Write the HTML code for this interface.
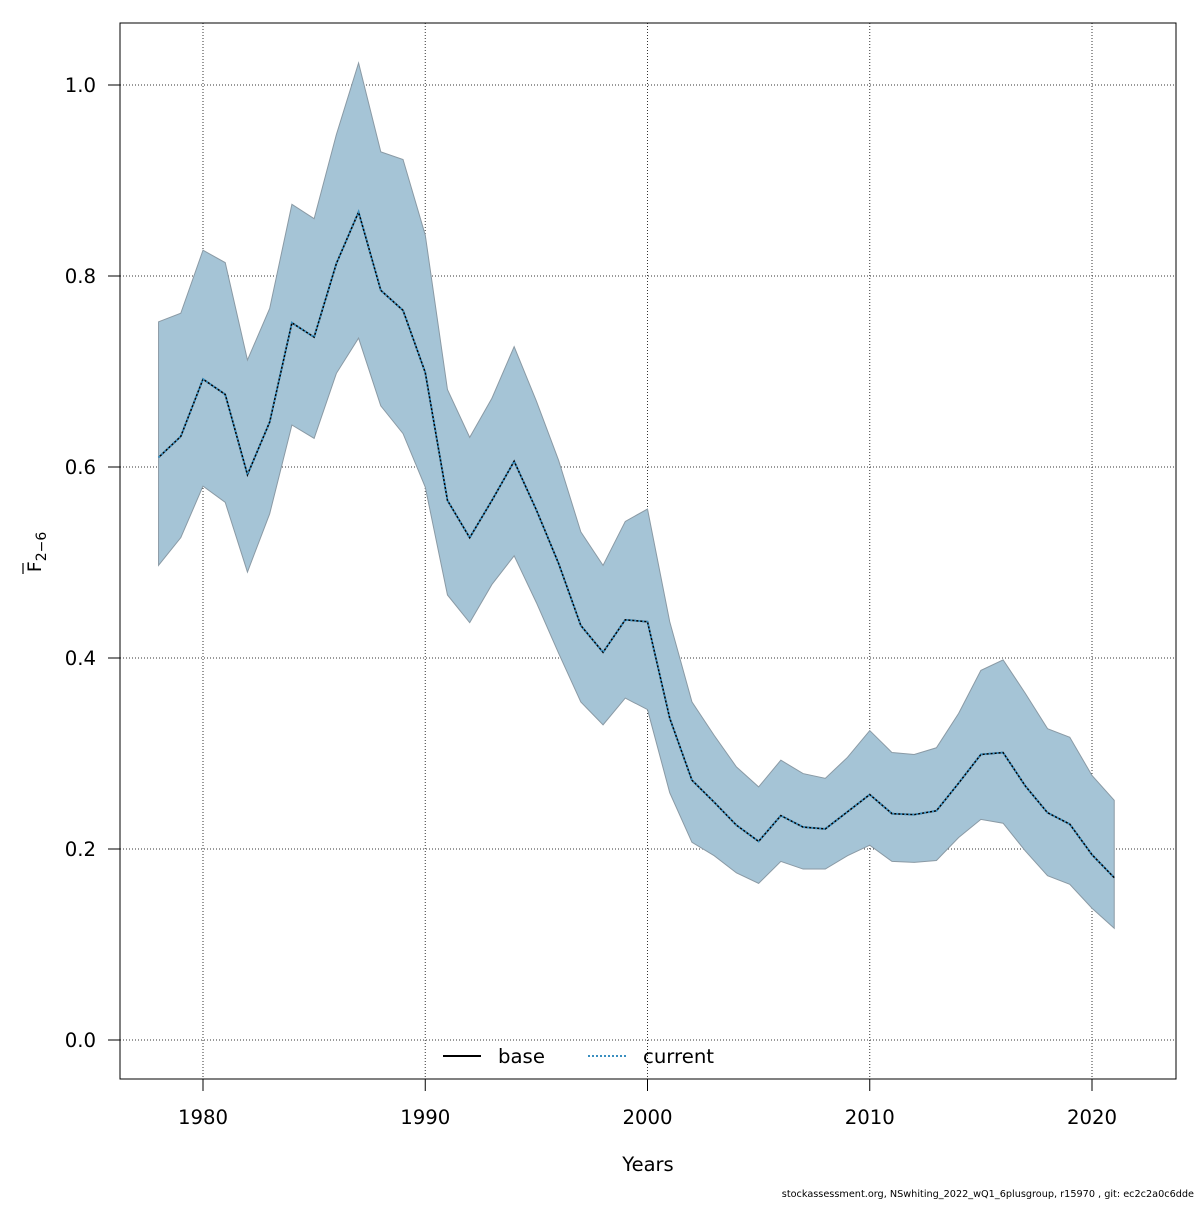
<!DOCTYPE html>
<html><head><meta charset="utf-8"><style>
html,body{margin:0;padding:0;background:#fff;}
svg text{font-family:"DejaVu Sans","Liberation Sans",sans-serif;}
</style></head><body>
<svg id="chart" width="1200" height="1200" xmlns="http://www.w3.org/2000/svg">
<rect width="1200" height="1200" fill="#fff"/>
<g id="grid"></g>
<g id="band"></g>
<g id="lines"></g>
<rect x="120" y="23" width="1056" height="1056" fill="none" stroke="#000" stroke-width="1"/>
<g id="axes"></g>
<text x="648" y="1171" font-size="19.5" text-anchor="middle">Years</text>
<text transform="translate(41,552) rotate(-90)" font-size="19" text-anchor="middle">F<tspan font-size="14" dy="5">2−6</tspan></text>
<line x1="23" y1="563" x2="23" y2="574" stroke="#000" stroke-width="1.2"/>
<g>
<line x1="443" y1="1056" x2="481" y2="1056" stroke="#000" stroke-width="2"/>
<text x="498" y="1063" font-size="19.7">base</text>
<line x1="588" y1="1056" x2="626" y2="1056" stroke="#3a8fc0" stroke-width="2" stroke-dasharray="2,2"/>
<text x="643" y="1063" font-size="19.7">current</text>
</g>
<text x="1194" y="1197" font-size="9.7" text-anchor="end">stockassessment.org, NSwhiting_2022_wQ1_6plusgroup, r15970 , git: ec2c2a0c6dde</text>
</svg>
<script>
const years = [1978,1979,1980,1981,1982,1983,1984,1985,1986,1987,1988,1989,1990,1991,1992,1993,1994,1995,1996,1997,1998,1999,2000,2001,2002,2003,2004,2005,2006,2007,2008,2009,2010,2011,2012,2013,2014,2015,2016,2017,2018,2019,2020,2021];
const fbar = [0.610,0.632,0.692,0.676,0.592,0.647,0.751,0.736,0.813,0.867,0.785,0.764,0.699,0.565,0.526,0.565,0.606,0.555,0.499,0.434,0.406,0.440,0.438,0.337,0.272,0.249,0.225,0.208,0.235,0.223,0.221,0.239,0.257,0.237,0.236,0.240,0.269,0.299,0.301,0.266,0.238,0.226,0.194,0.170];
const upper = [0.752,0.761,0.827,0.814,0.712,0.766,0.875,0.860,0.948,1.023,0.930,0.922,0.843,0.681,0.631,0.672,0.726,0.669,0.607,0.532,0.497,0.543,0.556,0.438,0.354,0.319,0.286,0.265,0.293,0.279,0.274,0.296,0.324,0.301,0.299,0.306,0.342,0.387,0.398,0.363,0.326,0.317,0.277,0.251];
const lower = [0.497,0.526,0.580,0.563,0.490,0.551,0.644,0.630,0.698,0.735,0.664,0.635,0.579,0.466,0.437,0.477,0.507,0.458,0.405,0.354,0.330,0.358,0.346,0.259,0.207,0.193,0.175,0.164,0.187,0.179,0.179,0.193,0.204,0.187,0.186,0.188,0.212,0.231,0.227,0.198,0.172,0.163,0.138,0.117];
const xTicks = [1980,1990,2000,2010,2020];
const yTicks = [0.0,0.2,0.4,0.6,0.8,1.0];
const yTickLabels = ["0.0","0.2","0.4","0.6","0.8","1.0"];

const NS="http://www.w3.org/2000/svg";
const X = y => 203 + (y-1980)*(1092-203)/40;
const Y = v => 1040 - v*955;
function mk(tag, attrs, parent){const e=document.createElementNS(NS,tag);for(const k in attrs)e.setAttribute(k,attrs[k]);parent.appendChild(e);return e;}
const grid=document.getElementById('grid'), axes=document.getElementById('axes');
xTicks.forEach(t=>{
  const g=mk('line',{x1:X(t),x2:X(t),y1:23,y2:1079,stroke:'#333','stroke-width':1,'stroke-dasharray':'1,2'},grid);
  
  
  const tk=mk('line',{x1:X(t),x2:X(t),y1:1079,y2:1091,stroke:'#000'},axes);
  
  
  const tx=mk('text',{x:X(t),y:1124,'font-size':19.7,'text-anchor':'middle'},axes);
  tx.textContent=t;
  
  
});
yTicks.forEach((t,i)=>{
  const g=mk('line',{x1:120,x2:1176,y1:Y(t),y2:Y(t),stroke:'#333','stroke-width':1,'stroke-dasharray':'1,2'},grid);
  
  
  const tk=mk('line',{x1:108,x2:120,y1:Y(t),y2:Y(t),stroke:'#000'},axes);
  
  
  const tx=mk('text',{x:96,y:Y(t)+7,'font-size':19.7,'text-anchor':'end'},axes);
  tx.textContent=yTickLabels[i];
  
  
});
let d='';
years.forEach((y,i)=>{d+=(i?'L':'M')+X(y)+','+Y(upper[i]);});
for(let i=years.length-1;i>=0;i--) d+='L'+X(years[i])+','+Y(lower[i]);
d+='Z';
const band=mk('path',{d:d,fill:'#a5c4d6',stroke:'#8a9aa5','stroke-width':1},document.getElementById('band'));


const pts=years.map((y,i)=>X(y)+','+Y(fbar[i])).join(' ');
const lines=document.getElementById('lines');
const base=mk('polyline',{points:pts,fill:'none',stroke:'#000','stroke-width':1.6},lines);


const cur=mk('polyline',{points:pts,fill:'none',stroke:'#3a8fc0','stroke-width':2,'stroke-dasharray':'2,2'},lines);


</script>
</body></html>
